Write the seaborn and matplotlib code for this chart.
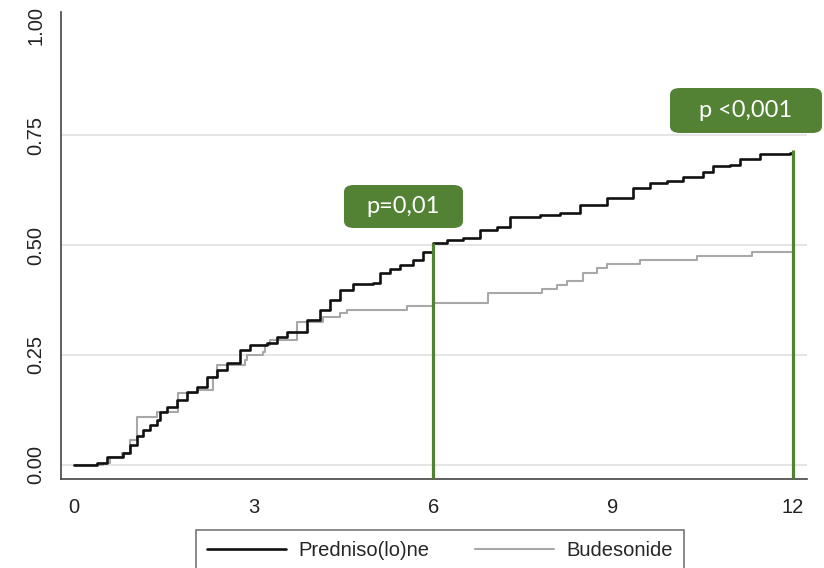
import matplotlib
matplotlib.use("Agg")
import matplotlib.pyplot as plt
from matplotlib.lines import Line2D
from matplotlib.patches import FancyBboxPatch
import numpy as np
import pandas as pd
import seaborn as sns

# Cumulative incidence (step times in months, value after each step)
pred_time = [0, 0.38, 0.55, 0.82, 0.93, 1.05, 1.15, 1.27, 1.39, 1.44, 1.55, 1.72,
             1.89, 2.05, 2.22, 2.39, 2.55, 2.77, 2.94, 3.22, 3.39, 3.56, 3.89,
             4.11, 4.27, 4.44, 4.66, 4.99, 5.11, 5.28, 5.44, 5.66, 5.83, 5.99,
             6.23, 6.49, 6.78, 7.06, 7.28, 7.78, 8.11, 8.45, 8.90, 9.33, 9.62,
             9.90, 10.17, 10.50, 10.67, 10.95, 11.12, 11.45, 11.95, 12.0]
pred_cuminc = [0, 0.005, 0.018, 0.027, 0.045, 0.066, 0.080, 0.091, 0.102, 0.120,
               0.132, 0.148, 0.166, 0.177, 0.200, 0.216, 0.232, 0.261, 0.273,
               0.277, 0.291, 0.302, 0.330, 0.352, 0.375, 0.398, 0.411, 0.414,
               0.436, 0.445, 0.455, 0.466, 0.484, 0.505, 0.511, 0.516, 0.534,
               0.541, 0.564, 0.568, 0.573, 0.591, 0.607, 0.630, 0.641, 0.645,
               0.655, 0.666, 0.680, 0.682, 0.695, 0.707, 0.709, 0.709]

bud_time = [0, 0.48, 0.60, 0.80, 0.93, 1.05, 1.39, 1.74, 2.05, 2.32, 2.39, 2.85,
            2.89, 3.16, 3.19, 3.27, 3.72, 4.16, 4.44, 4.56, 5.56, 5.99, 6.91,
            7.81, 8.06, 8.23, 8.50, 8.73, 8.90, 9.45, 10.40, 11.32, 12.0]
bud_cuminc = [0, 0.005, 0.018, 0.027, 0.057, 0.109, 0.120, 0.164, 0.170, 0.200,
              0.227, 0.239, 0.250, 0.257, 0.273, 0.284, 0.325, 0.336, 0.345,
              0.352, 0.361, 0.368, 0.391, 0.400, 0.409, 0.418, 0.436, 0.448,
              0.457, 0.466, 0.475, 0.484, 0.484]

groups = ["Predniso(lo)ne", "Budesonide"]
group_colors = ["#111111", "#a8a8a8"]

# Landmark comparisons
mark_time = [6, 12]
mark_value = [0.505, 0.716]
mark_text = ["p=0,01", "p <0,001"]

x_ticks = [0, 3, 6, 9, 12]
y_ticks = [0.00, 0.25, 0.50, 0.75, 1.00]

GREEN = "#548235"

sns.set_style("white")
plt.rcParams["font.family"] = ["Liberation Sans", "DejaVu Sans"]

fig = plt.figure(figsize=(8.24, 5.68), dpi=100)
ax = fig.add_axes([61 / 824, 1 - 479 / 568, (807 - 61) / 824, (479 - 12) / 568])

for yv in y_ticks[:-1]:
    ax.axhline(yv, color="#e3e3e3", lw=1.3, zorder=0)

pred_df = pd.DataFrame({"month": pred_time, "cuminc": pred_cuminc})
bud_df = pd.DataFrame({"month": bud_time, "cuminc": bud_cuminc})
sns.lineplot(data=bud_df, x="month", y="cuminc", ax=ax, color=group_colors[1],
             lw=1.5, drawstyle="steps-post", estimator=None, sort=False, zorder=2)
sns.lineplot(data=pred_df, x="month", y="cuminc", ax=ax, color=group_colors[0],
             lw=1.9, drawstyle="steps-post", estimator=None, sort=False, zorder=3)

ax.set_xlim(-0.217, 12.24)
ax.set_ylim(-0.032, 1.03)

for t, v in zip(mark_time, mark_value):
    ax.plot([t, t], [-0.032, v], color=GREEN, lw=2.3, zorder=4, solid_capstyle="butt")

ax.set_xticks(x_ticks)
ax.set_xticklabels([str(t) for t in x_ticks])
ax.set_yticks(y_ticks)
ax.set_yticklabels([f"{v:.2f}" for v in y_ticks], rotation=90, va="center")
ax.set_xlabel("")
ax.set_ylabel("")

for side in ["top", "right"]:
    ax.spines[side].set_visible(False)
for side in ["left", "bottom"]:
    ax.spines[side].set_color("#444444")
    ax.spines[side].set_linewidth(1.2)
ax.tick_params(axis="both", direction="out", length=6, width=1.2, color="#444444",
               labelsize=14.5, labelcolor="#222222")
ax.tick_params(axis="x", pad=8)
ax.tick_params(axis="y", pad=5)

# p-value callouts
box_specs = [(344, 185, 463, 228), (670, 88, 822, 133)]
for (x0, y0, x1, y1), txt in zip(box_specs, mark_text):
    fx0, fx1 = x0 / 824, x1 / 824
    fy0, fy1 = 1 - y1 / 568, 1 - y0 / 568
    box = FancyBboxPatch((fx0, fy0), fx1 - fx0, fy1 - fy0,
                         boxstyle="round,pad=0,rounding_size=0.012",
                         transform=fig.transFigure, facecolor=GREEN,
                         edgecolor="none", zorder=5)
    fig.patches.append(box)
    fig.text((fx0 + fx1) / 2, (fy0 + fy1) / 2, txt, color="white",
             ha="center", va="center", fontsize=17, family=["Lato", "DejaVu Sans"],
             zorder=6)

handles = [Line2D([], [], color=group_colors[0], lw=1.9),
           Line2D([], [], color=group_colors[1], lw=1.5)]
leg = fig.legend(handles, groups, loc="upper center", ncol=2,
                 bbox_to_anchor=(440 / 824, 1 - 530 / 568), frameon=True,
                 fontsize=14.5, handlelength=3.9, handletextpad=0.6,
                 columnspacing=2.3, borderpad=0.55, borderaxespad=0,
                 fancybox=False)
leg.get_frame().set_edgecolor("#555555")
leg.get_frame().set_linewidth(1.2)

fig.savefig("out.png", dpi=100)
